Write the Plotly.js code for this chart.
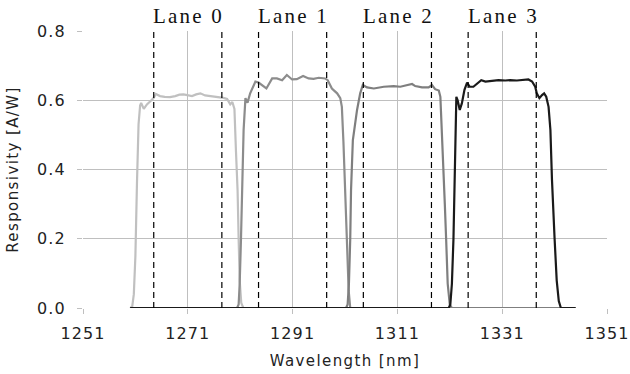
<!DOCTYPE html>
<html>
<head>
<meta charset="utf-8">
<script src="https://cdn.plot.ly/plotly-3.0.1.min.js"></script>
<style>
html, body { margin: 0; padding: 0; background: #fff; }
#chart { width: 630px; height: 374px; }
.xtick text, .ytick text { letter-spacing: 1.1px; }
.xtitle, .ytitle { letter-spacing: 1.4px; }
.annotation-text { letter-spacing: 2.2px; }
</style>
</head>
<body>
<div id="chart"></div>
<script>
// Lane 0
const lane0X = [1260, 1260.4, 1260.7, 1261.0, 1261.3, 1261.6, 1261.9, 1262.1, 1262.6, 1263.2, 1263.9, 1264.5, 1264.9, 1265.7, 1266.6, 1267.6, 1268.6, 1269.4, 1270.2, 1271.1, 1271.8, 1272.6, 1273.4, 1274.3, 1275.3, 1276.3, 1277.2, 1277.8, 1278.5, 1279.1, 1279.5, 1279.9, 1280.2, 1280.5, 1280.7, 1280.9, 1281.2, 1281.6, 1345];
const lane0Y = [0, 0.005, 0.04, 0.15, 0.36, 0.53, 0.585, 0.592, 0.575, 0.588, 0.598, 0.607, 0.618, 0.612, 0.610, 0.609, 0.612, 0.616, 0.617, 0.613, 0.612, 0.617, 0.620, 0.614, 0.612, 0.610, 0.609, 0.607, 0.604, 0.588, 0.595, 0.575, 0.45, 0.34, 0.2, 0.08, 0.015, 0, 0];
// Lane 1
const lane1X = [1260, 1280.4, 1280.7, 1280.9, 1281.15, 1281.4, 1281.65, 1282.0, 1282.4, 1282.9, 1283.9, 1284.5, 1285.2, 1286.0, 1287.1, 1288.0, 1289.0, 1289.9, 1290.9, 1291.8, 1293.0, 1294.05, 1295.0, 1296.0, 1297.2, 1297.7, 1298.5, 1299.5, 1300.1, 1300.4, 1300.7, 1301.05, 1301.4, 1301.7, 1302.0, 1345];
const lane1Y = [0, 0, 0.01, 0.07, 0.2, 0.36, 0.514, 0.606, 0.593, 0.62, 0.654, 0.651, 0.642, 0.634, 0.663, 0.663, 0.658, 0.673, 0.660, 0.661, 0.670, 0.663, 0.662, 0.665, 0.663, 0.658, 0.634, 0.620, 0.606, 0.581, 0.48, 0.34, 0.2, 0.05, 0, 0];
// Lane 2
const lane2X = [1260, 1301.2, 1301.5, 1301.75, 1302.0, 1302.15, 1302.5, 1303.3, 1303.9, 1304.4, 1305.2, 1306.5, 1308.4, 1310.3, 1311.55, 1312.8, 1313.8, 1314.4, 1315.7, 1316.95, 1317.6, 1318.2, 1318.9, 1319.2, 1319.5, 1319.8, 1320.05, 1320.3, 1320.6, 1321.0, 1321.4, 1345];
const lane2Y = [0, 0, 0.01, 0.07, 0.2, 0.34, 0.485, 0.572, 0.62, 0.644, 0.637, 0.634, 0.639, 0.641, 0.639, 0.644, 0.647, 0.641, 0.637, 0.637, 0.644, 0.632, 0.628, 0.61, 0.514, 0.40, 0.3, 0.2, 0.07, 0.01, 0, 0];
// Lane 3
const lane3X = [1260, 1320.8, 1321.1, 1321.4, 1321.7, 1321.85, 1322.05, 1322.25, 1322.5, 1322.9, 1323.3, 1323.8, 1324.3, 1324.8, 1325.5, 1326.2, 1327.0, 1327.8, 1329.05, 1330.3, 1331.6, 1332.5, 1333.8, 1335.0, 1336.0, 1336.7, 1337.3, 1337.6, 1338.1, 1338.6, 1339.0, 1339.4, 1339.85, 1340.2, 1340.5, 1341.0, 1341.4, 1341.8, 1342.2, 1345];
const lane3Y = [0, 0, 0.01, 0.07, 0.2, 0.34, 0.52, 0.61, 0.60, 0.572, 0.591, 0.63, 0.651, 0.639, 0.639, 0.649, 0.658, 0.654, 0.657, 0.658, 0.657, 0.658, 0.657, 0.659, 0.66, 0.654, 0.639, 0.62, 0.606, 0.615, 0.62, 0.61, 0.581, 0.514, 0.37, 0.2, 0.08, 0.02, 0, 0];

const laneNames = ["Lane 0", "Lane 1", "Lane 2", "Lane 3"];
const laneCenters = [1271, 1291, 1311, 1331];
const laneEdges = [1264.5, 1277.5, 1284.5, 1297.5, 1304.5, 1317.5, 1324.5, 1337.5];
const laneColors = ["#c0c0c0", "#8c8c8c", "#7f7f7f", "#1a1a1a"];

const xTicks = [1251, 1271, 1291, 1311, 1331, 1351];
const yTicks = [0.0, 0.2, 0.4, 0.6, 0.8];

const xs = [lane0X, lane1X, lane2X, lane3X];
const ys = [lane0Y, lane1Y, lane2Y, lane3Y];

const traces = xs.map((x, i) => ({
  x: x, y: ys[i], type: 'scatter', mode: 'lines', name: laneNames[i],
  line: { color: laneColors[i], width: 2.2 },
  hoverinfo: 'skip'
}));

const shapes = laneEdges.map(e => ({
  type: 'line', xref: 'x', yref: 'y', x0: e, x1: e, y0: 0, y1: 0.8,
  line: { color: '#000', width: 1.2, dash: '6px,4px' }
}));

const annotations = laneNames.map((n, i) => ({
  text: n, x: laneCenters[i], xref: 'x', y: 1, yref: 'paper',
  yanchor: 'bottom', yshift: 1, xshift: 1, showarrow: false,
  font: { family: 'Liberation Serif, Times New Roman, serif', size: 21, color: '#111' }
}));

const layout = {
  width: 630, height: 374,
  margin: { l: 83, r: 23, t: 31, b: 66 },
  paper_bgcolor: '#fff', plot_bgcolor: '#fff',
  showlegend: false,
  font: { family: 'DejaVu Sans, Verdana, sans-serif', color: '#222', size: 15 },
  xaxis: {
    range: [1251, 1351], tickvals: xTicks, ticktext: xTicks.map(String),
    showgrid: true, gridcolor: '#bfbfbf', gridwidth: 1,
    zeroline: false, showline: false,
    ticks: 'outside', ticklen: 5, tickcolor: '#bfbfbf',
    tickfont: { size: 16 }, ticklabelstandoff: 6,
    title: { text: 'Wavelength [nm]', font: { size: 15 }, standoff: 13 }
  },
  yaxis: {
    range: [0, 0.8], tickvals: yTicks, ticktext: yTicks.map(v => v.toFixed(1)),
    showgrid: true, gridcolor: '#bfbfbf', gridwidth: 1,
    zeroline: false, showline: false,
    ticks: 'outside', ticklen: 5, tickcolor: '#bfbfbf',
    tickfont: { size: 16 }, ticklabelstandoff: 8,
    title: { text: '\u00a0\u00a0Responsivity [A/W]', font: { size: 15 }, standoff: 14 }
  },
  shapes: shapes,
  annotations: annotations
};

Plotly.newPlot('chart', traces, layout, { staticPlot: true, displayModeBar: false });
</script>
</body>
</html>
